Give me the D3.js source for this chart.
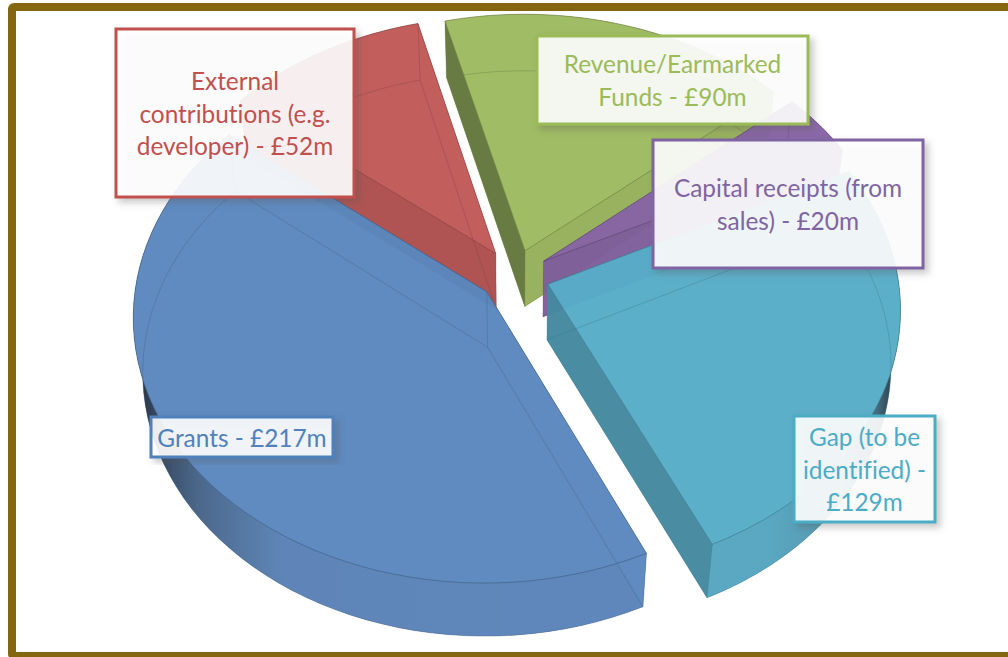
<!DOCTYPE html>
<html><head><meta charset="utf-8">
<script src="https://cdnjs.cloudflare.com/ajax/libs/d3/7.8.5/d3.min.js"></script>
<style>html,body{margin:0;padding:0;background:#fff;overflow:hidden}svg{display:block}</style>
</head><body><svg id="c" width="1008" height="657"></svg>
<script>
const categories = ["Grants","External contributions (e.g. developer)","Revenue/Earmarked Funds","Capital receipts (from sales)","Gap (to be identified)"];
const values = [217,52,90,20,129];
const labelLines = [["Grants - £217m"],["External","contributions (e.g.","developer) - £52m"],["Revenue/Earmarked","Funds - £90m"],["Capital receipts (from","sales) - £20m"],["Gap (to be","identified) -","£129m"]];
const colors = ["#5a88be","#c15957","#9dba5f","#8864a5","#57adc8"];
const labelColors = ["#4f81bd","#c0504d","#9bbb59","#8064a2","#4bacc6"];
const boxes = [[151,417,182,40],[116,29,238,168],[537,36,271,88],[653,140,270,128],[794,416,141,106]];
const drawOrder = [2,1,3,4,0];
const startDark = [0,.1,.36,0,0], endDark = [0,0,.05,.06,.2];

const svg = d3.select("#c"), W=1008,H=657;
const defs = svg.append("defs");
const cx=514.6, cy=275.5, Rx=350, Ry=262, g=.09, hz=.025, dz=57/262, explode=.1;
const sx = d3.scaleLinear().domain([-1,1]).range([cx-Rx,cx+Rx]);
const sy = d3.scaleLinear().domain([-1,1]).range([cy+Ry,cy-Ry]);
function proj(X,Y,z){const w=1+g*Y+hz*z;return [sx(X/w),sy((Y-dz*z)/w)];}
const arcs = d3.pie().sort(null).value(d=>d).startAngle(155*Math.PI/180).endAngle((155+360)*Math.PI/180)(values);
const line = d3.line().curve(d3.curveLinear);

// frame
svg.append("rect").attr("x",12).attr("y",7).attr("width",W+20).attr("height",H-8).attr("rx",2).attr("fill","#fff").attr("stroke","#846510").attr("stroke-width",8);

function grad(id,x1,x2,stops){const l=defs.append("linearGradient").attr("id",id).attr("gradientUnits","userSpaceOnUse").attr("x1",x1).attr("x2",x2).attr("y1",0).attr("y2",0);
 stops.forEach(s=>l.append("stop").attr("offset",s[0]).attr("stop-color",s[1]));}
grad("wall0",sx(-1.08),sx(.4),[[0,"#1f2a3a"],[.03,"#2e3d55"],[.12,"#466488"],[.28,"#5a82b6"],[1,"#5b84ba"]]);
grad("wall4",sx(1.08),sx(.5),[[0,"#2b3c44"],[.08,"#3d6a7c"],[.25,"#4f93ab"],[.6,"#55a5bf"],[1,"#55a7c1"]]);
const f=defs.append("filter").attr("id","sh").attr("x","-15%").attr("y","-15%").attr("width","135%").attr("height","135%");
f.append("feDropShadow").attr("dx",4).attr("dy",4).attr("stdDeviation",3.5).attr("flood-color","#555").attr("flood-opacity",.35);

const slices = svg.append("g");
drawOrder.forEach(i=>{
  const a=arcs[i], mid=(a.startAngle+a.endAngle)/2;
  const ox=explode*Math.sin(mid), oy=explode*Math.cos(mid);
  const ang=d3.range(0,61).map(k=>a.startAngle+(a.endAngle-a.startAngle)*k/60);
  const rim=z=>ang.map(t=>proj(ox+Math.sin(t),oy+Math.cos(t),z));
  const apex=z=>proj(ox,oy,z);
  const top=rim(0), bot=rim(1), A0=apex(0), A1=apex(1);
  const G=slices.append("g").attr("opacity",.97);
  const col=colors[i], dark=d3.color(col).darker(1.2).formatHex();
  const poly=(pts,fill,op=1)=>G.append("path").attr("d",line(pts)+"Z").attr("fill",fill).attr("fill-opacity",op);
  poly([A1,...bot],col);
  poly([...top,...bot.slice().reverse()], i===0?"url(#wall0)":i===4?"url(#wall4)":d3.color(col).darker(.12).formatHex());
  const S0=[A0,top[0],bot[0],A1], S1=[A0,top[60],bot[60],A1];
  poly(S0,col); poly(S1,col);
  if(startDark[i]) poly(S0,"#000",startDark[i]);
  if(endDark[i]) poly(S1,"#000",endDark[i]);
  poly([A0,...top],col);
  // rim + edges of the top face
  G.append("path").attr("d",line([A0,...top])+"Z").attr("fill","none").attr("stroke",dark).attr("stroke-opacity",.7).attr("stroke-width",.9);
  // edges of the hidden bottom face, seen through the slice
  G.append("path").attr("d",line([A1,...bot])+"Z").attr("fill","none").attr("stroke",dark).attr("stroke-opacity",.45).attr("stroke-width",.8);
  G.append("path").attr("d",line([A0,A1])).attr("fill","none").attr("stroke",dark).attr("stroke-opacity",.4).attr("stroke-width",.8);
  [[top[0],bot[0]],[top[60],bot[60]]].forEach(p=>G.append("path").attr("d",line(p)).attr("fill","none").attr("stroke",dark).attr("stroke-opacity",.45).attr("stroke-width",.8));
});

// labels
const lbl=svg.append("g");
[1,2,3,4,0].forEach(i=>{
  const b=boxes[i], n=labelLines[i].length, lh=32.2;
  lbl.append("rect").attr("x",b[0]).attr("y",b[1]).attr("width",b[2]).attr("height",b[3]).attr("fill","#fff").attr("fill-opacity",.89)
    .attr("stroke",labelColors[i]).attr("stroke-width",3).attr("filter","url(#sh)");
  const tc=b[1]+b[3]/2+1;
  labelLines[i].forEach((t,k)=>lbl.append("text").attr("x",b[0]+b[2]/2).attr("y",tc+(k-(n-1)/2)*lh)
    .attr("dy","0.35em").attr("text-anchor","middle").attr("fill",labelColors[i])
    .style("font-family","Lato, sans-serif").style("font-size","24.4px").style("font-variant-ligatures","none").text(t));
});
</script></body></html>
